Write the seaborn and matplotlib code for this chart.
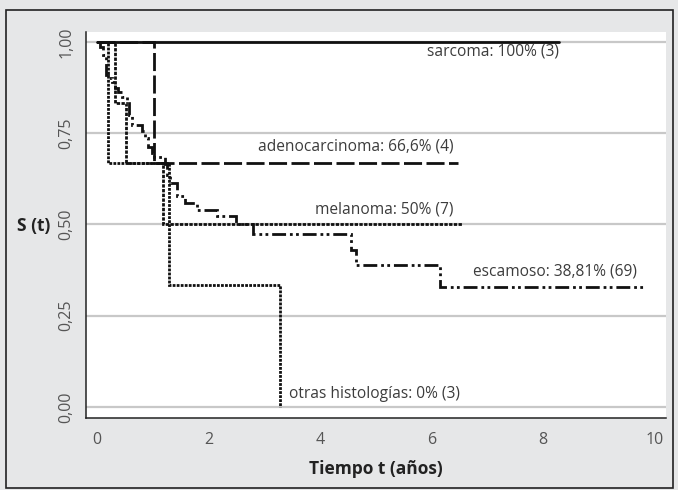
import matplotlib
matplotlib.use("Agg")
import matplotlib.pyplot as plt
import seaborn as sns
import pandas as pd
from matplotlib.patches import Rectangle

# ---- data ----
sarcoma_t = [0.0, 8.29]
sarcoma_s = [1.0, 1.0]

adeno_t = [0.0, 1.02, 6.48]
adeno_s = [1.0, 0.667, 0.667]

melanoma_t = [0.0, 0.32, 0.52, 1.18, 6.55]
melanoma_s = [1.0, 0.833, 0.667, 0.5, 0.5]

otras_t = [0.0, 0.20, 1.29, 3.28, 3.28]
otras_s = [1.0, 0.667, 0.333, 0.0, 0.0]

escamoso_t = [0.0, 0.05, 0.11, 0.16, 0.20, 0.26, 0.32, 0.38, 0.44, 0.53, 0.58,
              0.62, 0.80, 0.86, 0.92, 0.98, 1.02, 1.22, 1.26, 1.31, 1.43, 1.58,
              1.79, 2.15, 2.50, 2.80, 4.55, 4.65, 6.15, 9.82]
escamoso_s = [1.0, 0.987, 0.964, 0.91, 0.90, 0.89, 0.874, 0.864, 0.85, 0.837, 0.80,
              0.773, 0.755, 0.736, 0.713, 0.695, 0.686, 0.666, 0.636, 0.613, 0.577, 0.56,
              0.54, 0.524, 0.50, 0.474, 0.43, 0.39, 0.33, 0.33]

labels = ["sarcoma: 100% (3)", "adenocarcinoma: 66,6% (4)", "melanoma: 50% (7)",
          "escamoso: 38,81% (69)", "otras histologías: 0% (3)"]
label_t = [8.29, 6.39, 6.39, 9.69, 3.45]
label_s = [0.973, 0.713, 0.54, 0.37, 0.036]
label_ha = ["right", "right", "right", "right", "left"]

yticks = [0.0, 0.25, 0.5, 0.75, 1.0]
ytick_labels = ["0,00", "0,25", "0,50", "0,75", "1,00"]
xticks = [0, 2, 4, 6, 8, 10]

# ---- style ----
sns.set_style("white")
plt.rcParams["font.family"] = ["Open Sans", "DejaVu Sans"]

bg = "#e6e7e8"
txt = "#3c3c3c"
fig = plt.figure(figsize=(6.78, 4.90), dpi=100, facecolor=bg)
ax = fig.add_axes([86 / 678, 1 - 418 / 490, (666 - 86) / 678, (418 - 32) / 490])
ax.set_facecolor("white")

# outer frame
fig.patches.append(Rectangle((6 / 678, 2 / 490), 667 / 678, 478 / 490,
                             transform=fig.transFigure, fill=False,
                             edgecolor="#222222", linewidth=1.2, zorder=0))

for y in yticks:
    ax.axhline(y, color="#c8c8c8", linewidth=1.6, zorder=0)

lw = 2.0
series = [
    (sarcoma_t, sarcoma_s, (None, None)),
    (adeno_t, adeno_s, (6.5, 1.6)),
    (melanoma_t, melanoma_s, (1.2, 0.5)),
    (otras_t, otras_s, (1.0, 0.45)),
    (escamoso_t, escamoso_s, (5.0, 1.4, 1.0, 1.2, 1.0, 1.4)),
]
for t, s, dash in series:
    df = pd.DataFrame({"t": t, "s": s})
    line_kw = dict(x="t", y="s", data=df, ax=ax, color="#111111", linewidth=lw,
                   drawstyle="steps-post", estimator=None, sort=False, legend=False)
    sns.lineplot(**line_kw)
    ln = ax.lines[-1]
    if dash[0] is not None:
        ln.set_dashes(dash)
    ln.set_solid_joinstyle("miter")
    ln.set_dash_joinstyle("miter")
    ln.set_zorder(3)

for lab, tx, sy, ha in zip(labels, label_t, label_s, label_ha):
    ax.text(tx, sy, lab, ha=ha, va="center", fontsize=11.2, color=txt)

ax.set_xlim(-0.2, 10.21)
ax.set_ylim(-0.03, 1.027)
ax.set_xticks(xticks)
ax.set_xticklabels([str(x) for x in xticks])
ax.set_yticks(yticks)
ax.set_yticklabels(ytick_labels, rotation=90, va="center")
ax.tick_params(axis="both", direction="out", length=6, width=1, color="#222222",
               labelsize=11.5, labelcolor="#555555", pad=2.5)
ax.tick_params(axis="x", pad=4)

for side in ["top", "right"]:
    ax.spines[side].set_visible(False)
for side in ["left", "bottom"]:
    ax.spines[side].set_color("#222222")
    ax.spines[side].set_linewidth(1.1)

ax.set_xlabel("Tiempo t (años)", fontsize=12.5, fontweight="bold", color="#222222", labelpad=9)
ax.set_ylabel("")
fig.text(34 / 678, 1 - 226 / 490, "S (t)", fontsize=12.5, fontweight="bold", color="#222222",
         ha="center", va="center")

fig.savefig("out.png", dpi=100, facecolor=bg)
